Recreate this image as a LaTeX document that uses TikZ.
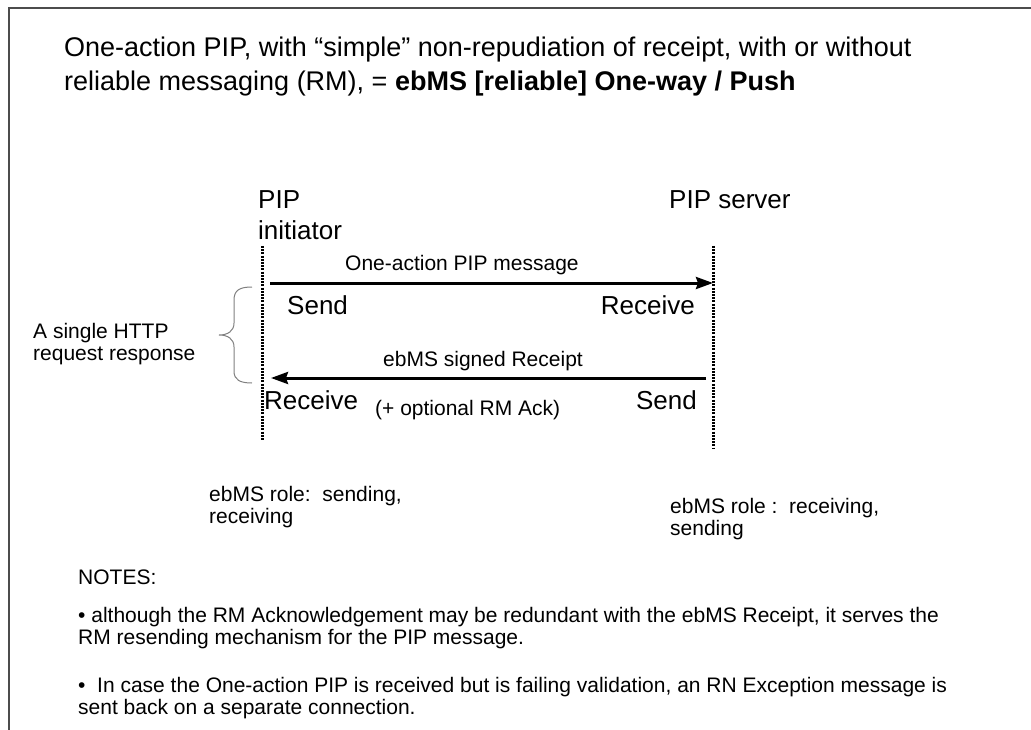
\documentclass[tikz,border=0pt]{standalone}
\usepackage{fontspec}
\setmainfont{Liberation Sans}
\usetikzlibrary{arrows.meta}
\begin{document}
\begin{tikzpicture}[x=1pt,y=-1pt,
  txt/.style={anchor=base west,inner sep=0pt,font=\fontsize{21}{22}\selectfont},
  big/.style={anchor=base west,inner sep=0pt,font=\fontsize{26}{31}\selectfont},
  ttl/.style={anchor=base west,inner sep=0pt,align=left,font=\fontsize{27}{34}\selectfont},
  multi/.style={txt,align=left,font=\fontsize{21}{22}\selectfont},
  lifeline/.style={line width=3pt,dash pattern=on 2pt off 1.2pt},
  msg/.style={line width=3pt,-{Stealth[length=17pt,width=12pt,inset=2pt]}},
  bracket/.style={draw=gray,line width=1pt},
  frame/.style={draw=black!70,line width=1.6pt}]
\useasboundingbox (0,0) rectangle (1031,730);
% page frame (open at right and bottom)
\draw[frame] (9,730) -- (9,8) -- (1031,8);

% title (anchored at the baseline of its last line)
\node[ttl] (title) at (64,91) {One-action PIP, with “simple” non-repudiation of receipt, with or without\\
reliable messaging (RM), = \textbf{ebMS [reliable] One-way / Push}};

% participants
\node[big,align=left] (init) at (258,240) {PIP\\initiator};
\node[big] (server) at (669,209) {PIP server};

% lifelines
\coordinate (iTop) at (262,246);
\coordinate (iBot) at (262,441);
\coordinate (sTop) at (713,246);
\coordinate (sBot) at (713,449);
\draw[lifeline] (iTop) -- (iBot);
\draw[lifeline] (sTop) -- (sBot);

% message anchors on the lifelines
\coordinate (i1) at (270,283);
\coordinate (s1) at (713,283);
\coordinate (s2) at (706,378);
\coordinate (i2) at (271,378);

\draw[msg] (i1) -- (s1);
\draw[msg] (s2) -- (i2);

\node[txt] (m1) at (345,271) {One-action PIP message};
\node[big] (send1) at (287,314) {Send};
\node[big,anchor=base east] (recv1) at (695,314) {Receive};

\node[txt] (m2) at (383,366) {ebMS signed Receipt};
\node[big] (recv2) at (264,409) {Receive};
\node[txt] (ack) at (375,415) {(+ optional RM Ack)};
\node[big,anchor=base east] (send2) at (697,409) {Send};

% request/response grouping
\draw[bracket] (252,287) .. controls (240,287) and (234,290) .. (234,300)
  -- (234,323) .. controls (234,331) and (228,335) .. (219,335)
  .. controls (228,335) and (234,339) .. (234,347)
  -- (234,371) .. controls (234,380) and (240,383) .. (252,383);
\node[multi] (http) at (33,360) {A single HTTP\\request response};

% roles
\node[multi] (roleI) at (209,523) {ebMS role:\ \ sending,\\receiving};
\node[multi] (roleS) at (670,535) {ebMS role\ :\ \ receiving,\\sending};

% notes
\node[txt] (notes) at (78,584) {NOTES:};
\node[multi] (n1) at (78,644) {• although the RM Acknowledgement may be redundant with the ebMS Receipt, it serves the\\RM resending mechanism for the PIP message.};
\node[multi] (n2) at (78,714) {•\ \ In case the One-action PIP is received but is failing validation, an RN Exception message is\\sent back on a separate connection.};
\end{tikzpicture}
\end{document}
